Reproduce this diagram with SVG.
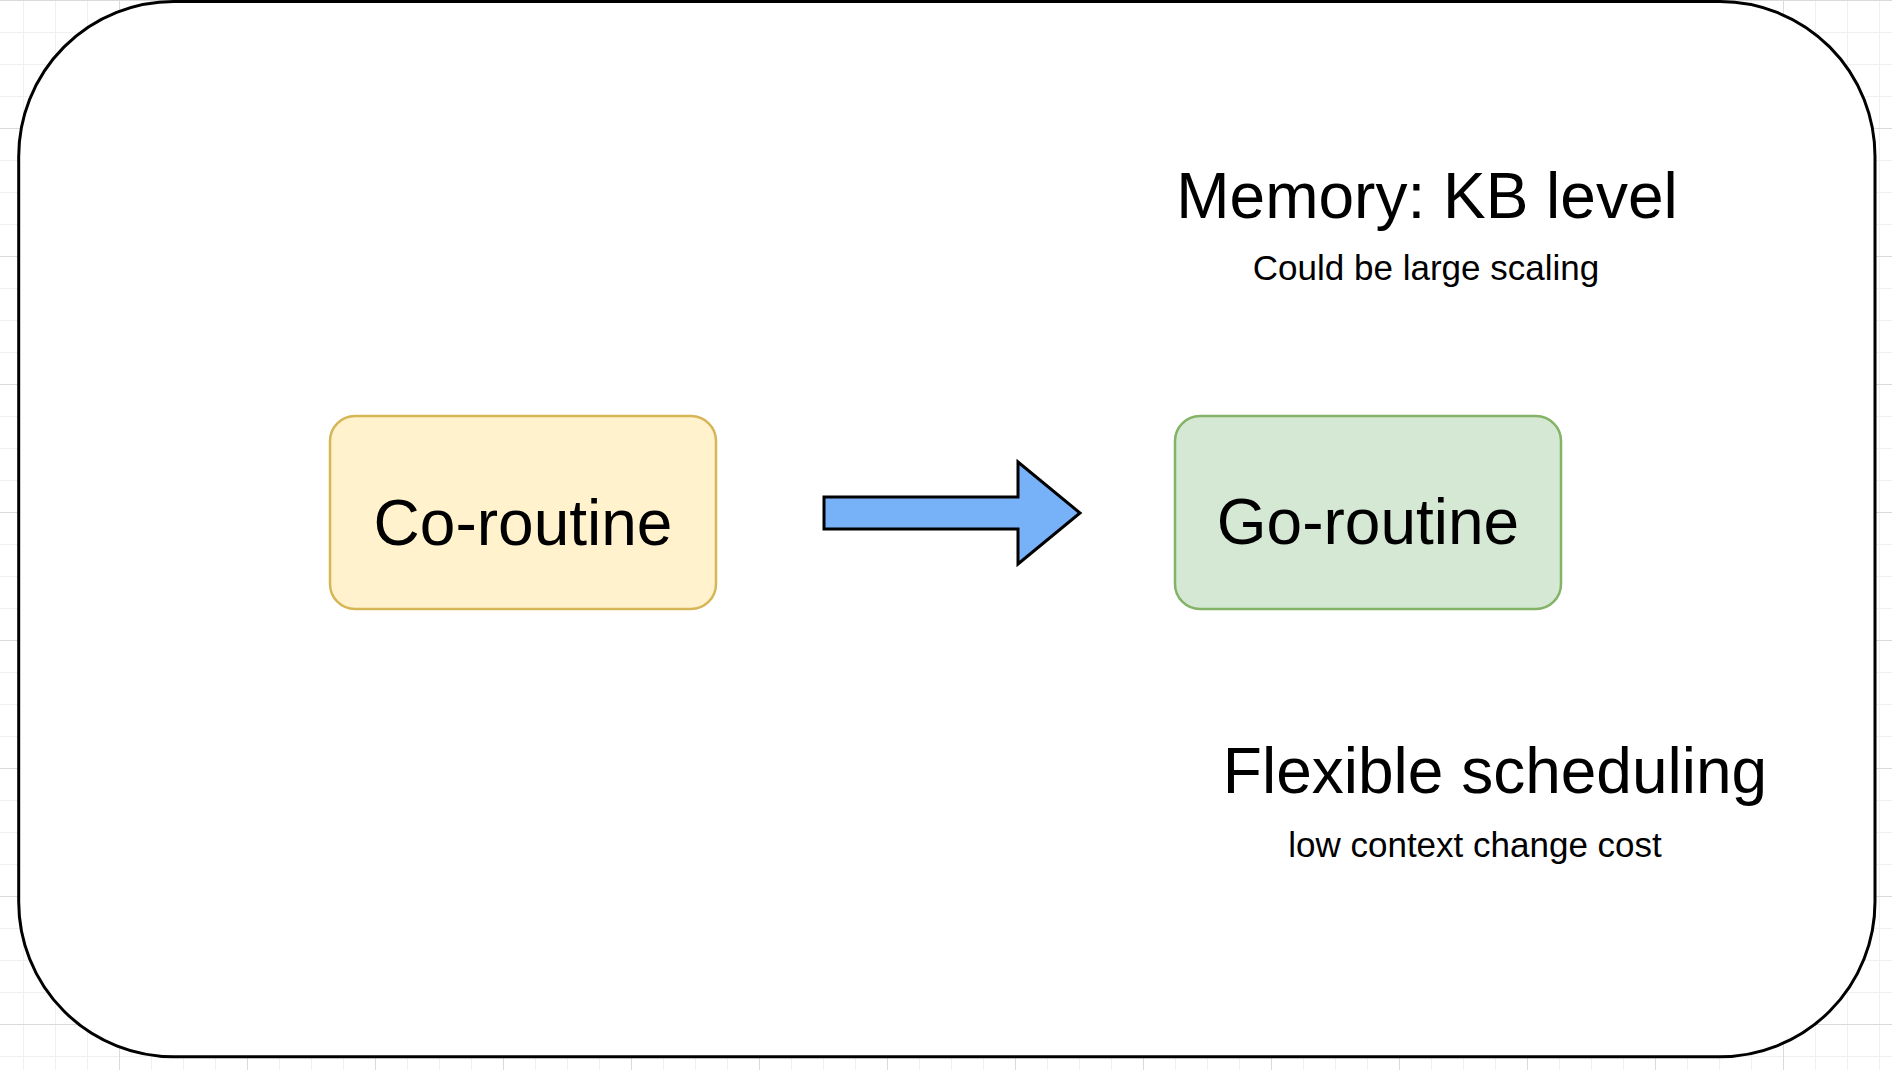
<svg xmlns="http://www.w3.org/2000/svg" width="1892" height="1070" viewBox="0 0 1892 1070">
  <style>
    .big { font-family: "Liberation Sans", Arial, Helvetica, sans-serif; font-size: 64px; fill: #000; text-anchor: middle; }
    .small { font-family: "Liberation Sans", Arial, Helvetica, sans-serif; font-size: 35px; fill: #000; text-anchor: middle; }
    .box { stroke-width: 2.5; }
  </style>
  <defs>
    <pattern id="minor" patternUnits="userSpaceOnUse" x="23" y="0" width="32" height="32">
      <path d="M0 0.5 H32 M0.5 0 V32" fill="none" stroke="#f0f0f0" stroke-width="1"/>
    </pattern>
    <pattern id="major" patternUnits="userSpaceOnUse" x="119" y="0" width="128" height="128">
      <path d="M0 0.5 H128 M0.5 0 V128" fill="none" stroke="#dadada" stroke-width="1"/>
    </pattern>
  </defs>
  <rect x="0" y="0" width="1892" height="1070" fill="#ffffff"/>
  <rect x="0" y="0" width="1892" height="1070" fill="url(#minor)"/>
  <rect x="0" y="0" width="1892" height="1070" fill="url(#major)"/>

  <g id="container">
    <rect x="18.7" y="1.5" width="1856.3" height="1055.2" rx="155" ry="155" fill="#ffffff" stroke="#000000" stroke-width="3"/>
  </g>

  <g id="memory-label">
    <text class="big" x="1427" y="218">Memory: KB level</text>
    <text class="small" x="1426" y="280">Could be large scaling</text>
  </g>

  <g id="coroutine">
    <rect class="box" x="330" y="416" width="386" height="193" rx="25" ry="25" fill="#fff2cc" stroke="#d6b656"/>
    <text class="big" x="523" y="545">Co-routine</text>
  </g>

  <g id="goroutine">
    <rect class="box" x="1175" y="416" width="386" height="193" rx="25" ry="25" fill="#d5e8d4" stroke="#82b366"/>
    <text class="big" x="1368" y="544">Go-routine</text>
  </g>

  <g id="connectors">
    <polygon points="824,497 1018,497 1018,462 1080,513 1018,564 1018,529 824,529" fill="#77b1f7" stroke="#000000" stroke-width="3"/>
  </g>

  <g id="scheduling-label">
    <text class="big" x="1495" y="793">Flexible scheduling</text>
    <text class="small" x="1475" y="857">low context change cost</text>
  </g>
</svg>
